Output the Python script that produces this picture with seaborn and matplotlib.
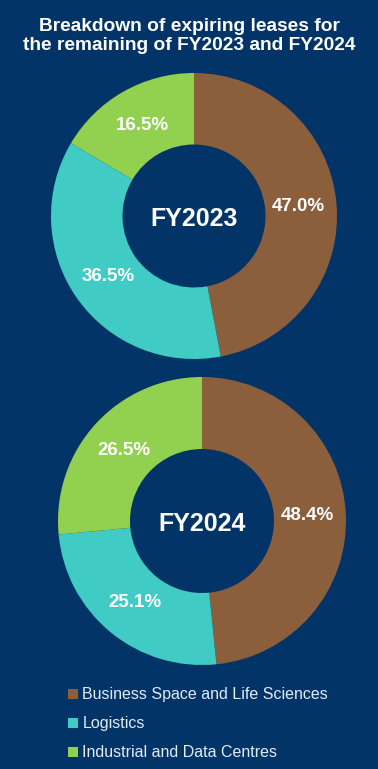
"""Donut charts: expiring leases by segment, FY2023 vs FY2024."""

import matplotlib
matplotlib.use('Agg')
import matplotlib.pyplot as plt
from matplotlib.patches import Patch
import seaborn as sns

# ── DATA ──────────────────────────────────────────────────────────────────────
SEGMENTS = ['Business Space and Life Sciences', 'Logistics',
            'Industrial and Data Centres']
FY2023 = [47.0, 36.5, 16.5]
FY2024 = [48.4, 25.1, 26.5]
YEARS = ['FY2023', 'FY2024']
TITLE = 'Breakdown of expiring leases for\nthe remaining of FY2023 and FY2024'

BG = '#023467'
COLORS = ['#8B5E3C', '#40CBC4', '#92D050']

sns.set_theme(style='white')
plt.rcParams['font.family'] = ['Liberation Sans', 'DejaVu Sans']

W, H = 378, 769
fig = plt.figure(figsize=(W / 100, H / 100), dpi=100, facecolor=BG)


def px_axes(cx, cy, r):
    """Axes centred on pixel (cx, cy) whose unit circle has radius r px."""
    half = 1.1 * r
    return fig.add_axes([(cx - half) / W, (H - cy - half) / H,
                         2 * half / W, 2 * half / H])


def donut(ax, values, year):
    ax.pie(values, colors=COLORS, startangle=90, counterclock=False,
           radius=1.0, wedgeprops={'width': 0.5, 'linewidth': 0},
           autopct='%.1f%%', pctdistance=0.73,
           textprops={'color': 'white', 'fontsize': 13.5,
                      'fontweight': 'bold'})
    ax.text(0, -0.02, year, ha='center', va='center', color='white',
            fontsize=18, fontweight='bold')
    ax.set_xlim(-1.1, 1.1)
    ax.set_ylim(-1.1, 1.1)
    ax.set_aspect('equal')
    ax.axis('off')


donut(px_axes(194, 216, 143), FY2023, YEARS[0])
donut(px_axes(202, 521, 144), FY2024, YEARS[1])

fig.text(189 / W, 1 - 36 / H, TITLE, ha='center', va='center',
         color='white', fontsize=13.8, fontweight='bold', linespacing=1.2)

handles = [Patch(facecolor=c, edgecolor='none') for c in COLORS]
fig.legend(handles, SEGMENTS, loc='upper left',
           bbox_to_anchor=(54 / W, 1 - 673 / H), frameon=False,
           fontsize=11.5, labelcolor='#E3EBF6', handlelength=0.62,
           handleheight=0.62, handletextpad=0.25, labelspacing=0.88)

fig.savefig('out.png', dpi=100, facecolor=BG)
